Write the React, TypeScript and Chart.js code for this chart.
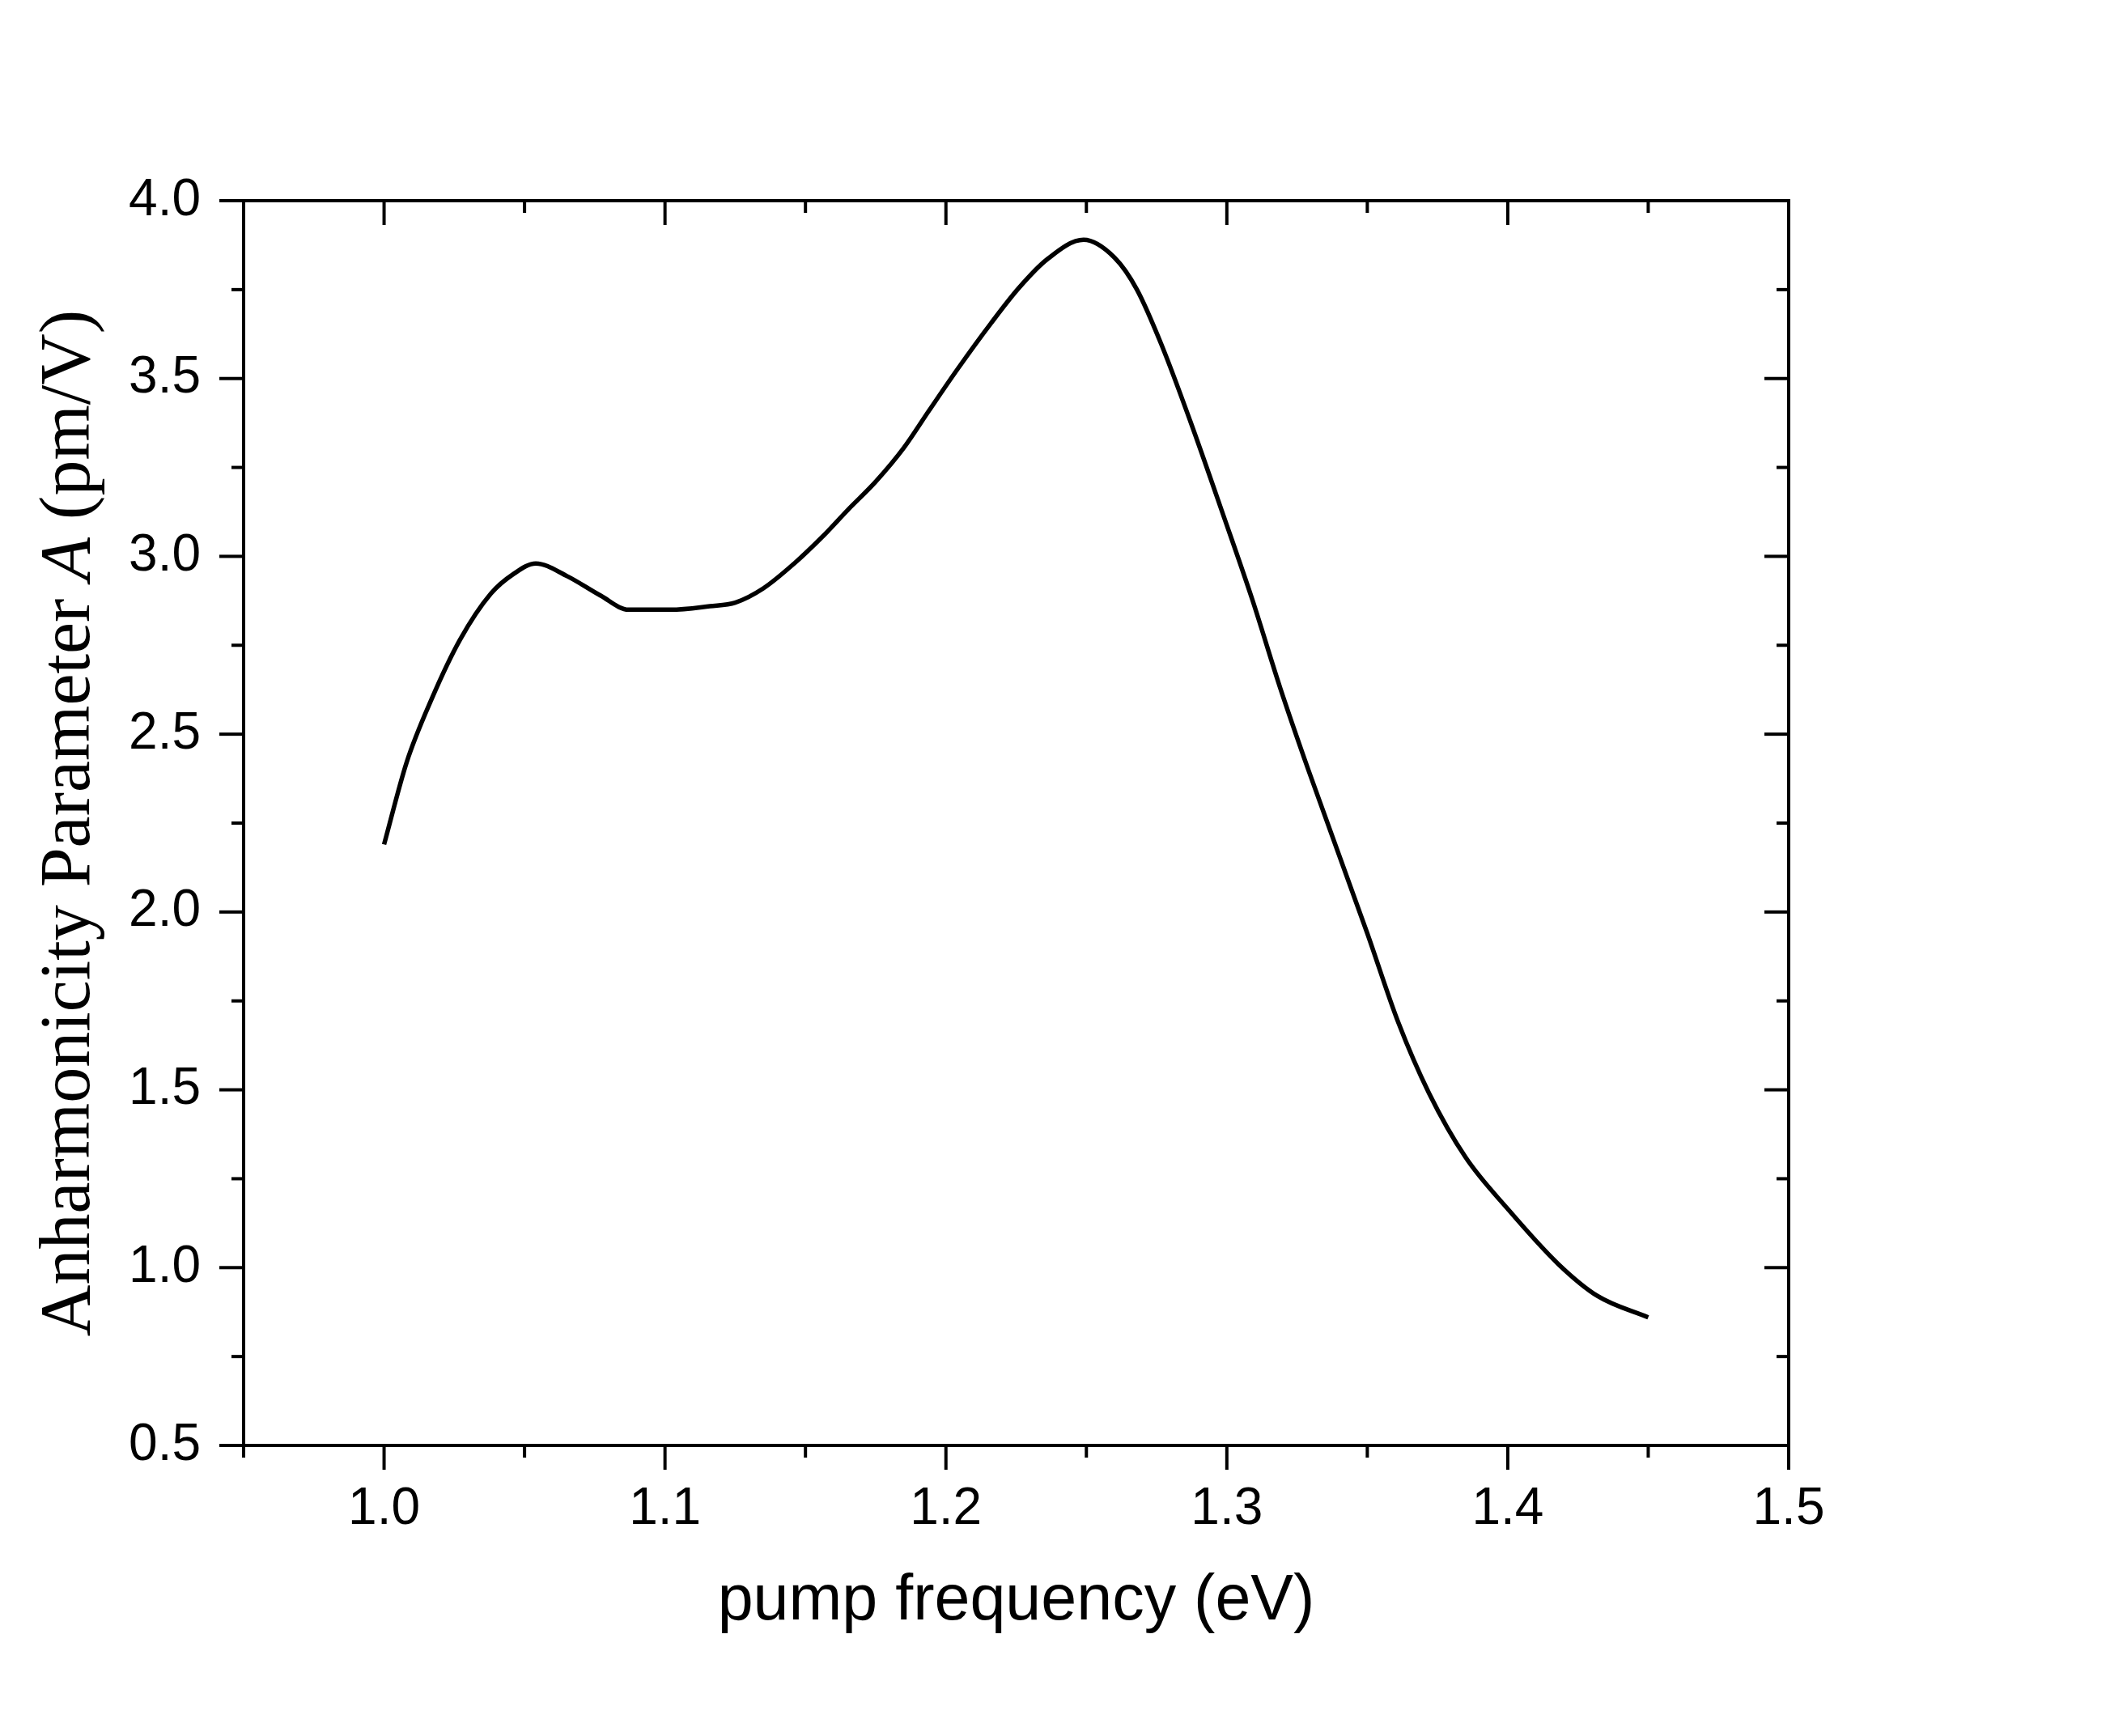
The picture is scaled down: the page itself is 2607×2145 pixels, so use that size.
import { useEffect, useRef } from "react";
import Chart from "chart.js/auto";

// pump frequency (eV) and anharmonicity parameter A (pm/V)
const energy = [
  1.0, 1.008, 1.017, 1.027, 1.038, 1.046, 1.054, 1.065, 1.077, 1.087,
  1.102, 1.116, 1.125, 1.135, 1.146, 1.156, 1.165, 1.175, 1.185, 1.194,
  1.204, 1.216, 1.226, 1.236, 1.249, 1.26, 1.268, 1.277, 1.287, 1.299,
  1.309, 1.319, 1.329, 1.35, 1.361, 1.372, 1.385, 1.4, 1.418, 1.432,
  1.45,
];
const anharmonicity = [
  2.19, 2.42, 2.6, 2.765, 2.895, 2.95, 2.98, 2.945, 2.89, 2.85,
  2.85, 2.86, 2.87, 2.91, 2.98, 3.055, 3.13, 3.21, 3.305, 3.41,
  3.525, 3.655, 3.755, 3.835, 3.89, 3.84, 3.75, 3.59, 3.38, 3.11,
  2.88, 2.63, 2.4, 1.94, 1.69, 1.49, 1.31, 1.165, 1.01, 0.92,
  0.86,
];

const xMajorTicks = [1.0, 1.1, 1.2, 1.3, 1.4, 1.5];
const xMinorTicks = [0.95, 1.05, 1.15, 1.25, 1.35, 1.45];
const yMajorTicks = [0.5, 1.0, 1.5, 2.0, 2.5, 3.0, 3.5, 4.0];
const yMinorTicks = [0.75, 1.25, 1.75, 2.25, 2.75, 3.25, 3.75];

// y title, with the symbol A in italics
const yTitleParts = [
  { text: "Anharmonicity Parameter ", italic: false },
  { text: "A", italic: true },
  { text: " (pm/V)", italic: false },
];

const W = 2607;
const H = 2145;
const sans = "'Liberation Sans', Arial, sans-serif";
const serif = "'Liberation Serif', 'Times New Roman', serif";

// Origin-style frame: outward ticks left/bottom, inward ticks top/right
const frameTicks = {
  id: "frameTicks",
  afterDatasetsDraw(chart: any) {
    const { ctx, chartArea: a, scales } = chart;
    const x = scales.x;
    const y = scales.y;
    ctx.save();
    ctx.strokeStyle = "#000";
    ctx.lineWidth = 4;
    ctx.strokeRect(a.left, a.top, a.right - a.left, a.bottom - a.top);
    const seg = (x1: number, y1: number, x2: number, y2: number) => {
      ctx.beginPath();
      ctx.moveTo(x1, y1);
      ctx.lineTo(x2, y2);
      ctx.stroke();
    };
    const drawX = (vals: number[], len: number) =>
      vals.forEach((v) => {
        const px = x.getPixelForValue(v);
        seg(px, a.bottom, px, a.bottom + len);
        seg(px, a.top, px, a.top + len);
      });
    const drawY = (vals: number[], len: number) =>
      vals.forEach((v) => {
        const py = y.getPixelForValue(v);
        seg(a.left - len, py, a.left, py);
        seg(a.right - len, py, a.right, py);
      });
    drawX(xMajorTicks, 30);
    drawX(xMinorTicks, 15);
    drawY(yMajorTicks, 30);
    drawY(yMinorTicks, 15);

    // rotated y title
    const fontFor = (italic: boolean) => `${italic ? "italic " : ""}88px ${serif}`;
    let total = 0;
    yTitleParts.forEach((p) => {
      ctx.font = fontFor(p.italic);
      total += ctx.measureText(p.text).width;
    });
    ctx.translate(110, (a.top + a.bottom) / 2);
    ctx.rotate(-Math.PI / 2);
    ctx.fillStyle = "#000";
    ctx.textAlign = "left";
    ctx.textBaseline = "alphabetic";
    let cx = -total / 2;
    yTitleParts.forEach((p) => {
      ctx.font = fontFor(p.italic);
      ctx.fillText(p.text, cx, 0);
      cx += ctx.measureText(p.text).width;
    });
    ctx.restore();
  },
};

export default function App() {
  const chartRef = useRef<HTMLCanvasElement>(null);

  useEffect(() => {
    if (!chartRef.current) return;

    const chart = new Chart(chartRef.current, {
      type: "line",
      data: {
        datasets: [
          {
            data: energy.map((e, i) => ({ x: e, y: anharmonicity[i] })),
            borderColor: "#000000",
            borderWidth: 5.5,
            pointRadius: 0,
            fill: false,
            cubicInterpolationMode: "monotone",
          },
        ],
      },
      options: {
        responsive: false,
        animation: false,
        devicePixelRatio: 1,
        layout: { padding: { left: 0, right: W - 2210, top: 248, bottom: 0 } },
        plugins: { legend: { display: false }, tooltip: { enabled: false } },
        scales: {
          x: {
            type: "linear",
            min: 0.95,
            max: 1.5,
            afterFit: (s: any) => {
              s.height = H - 1786;
            },
            afterBuildTicks: (s: any) => {
              s.ticks = xMajorTicks.map((v) => ({ value: v }));
            },
            grid: { display: false, drawTicks: false },
            border: { display: false },
            ticks: {
              color: "#000",
              padding: 41,
              maxRotation: 0,
              autoSkip: false,
              font: { family: sans, size: 64 },
              callback: (v: any) => Number(v).toFixed(1),
            },
            title: {
              display: true,
              text: "pump frequency (eV)",
              color: "#000",
              font: { family: sans, size: 79 },
              padding: { top: 0, bottom: 118 },
            },
          },
          y: {
            type: "linear",
            min: 0.5,
            max: 4.0,
            afterFit: (s: any) => {
              s.width = 301;
            },
            afterBuildTicks: (s: any) => {
              s.ticks = yMajorTicks.map((v) => ({ value: v }));
            },
            grid: { display: false, drawTicks: false },
            border: { display: false },
            ticks: {
              color: "#000",
              padding: 53,
              autoSkip: false,
              font: { family: sans, size: 64 },
              callback: (v: any) => Number(v).toFixed(1),
            },
          },
        },
      },
      plugins: [frameTicks],
    });

    return () => chart.destroy();
  }, []);

  return (
    <div style={{ position: "absolute", left: 0, top: 0, width: W, height: H, background: "#fff" }}>
      <canvas ref={chartRef} width={W} height={H} />
    </div>
  );
}
